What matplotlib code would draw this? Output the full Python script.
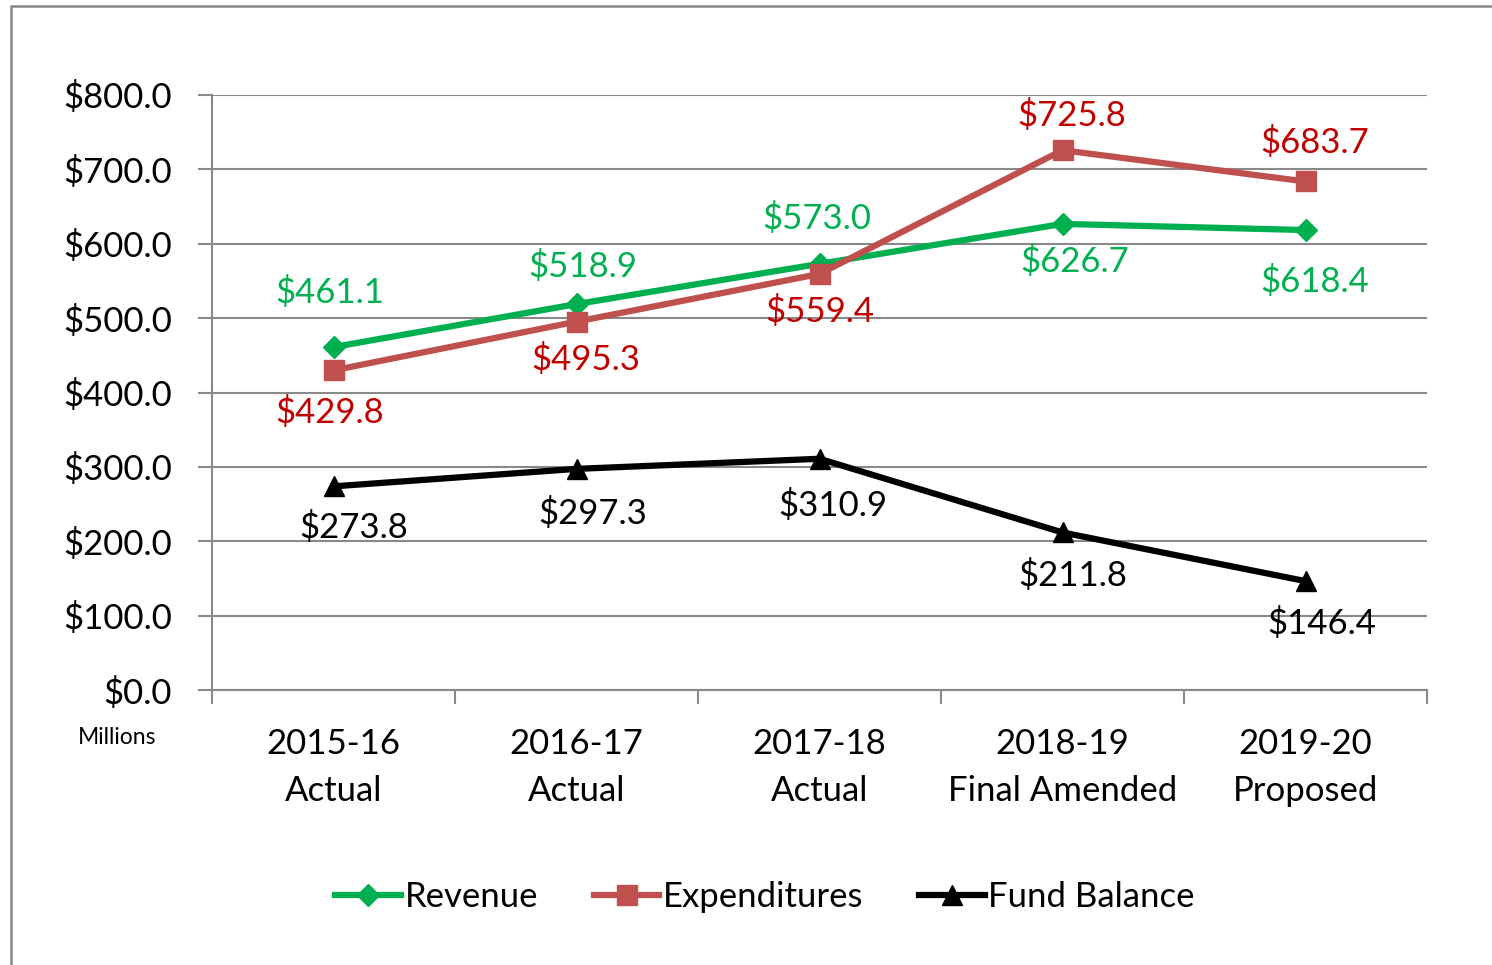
import matplotlib
matplotlib.use("Agg")
import matplotlib.pyplot as plt
from matplotlib.patches import Rectangle

plt.rcParams['font.family'] = ['Lato', 'DejaVu Sans']

# Data
categories = ['2015-16\nActual', '2016-17\nActual', '2017-18\nActual',
              '2018-19\nFinal Amended', '2019-20\nProposed']
revenue = [461.1, 518.9, 573.0, 626.7, 618.4]
expenditures = [429.8, 495.3, 559.4, 725.8, 683.7]
fund_balance = [273.8, 297.3, 310.9, 211.8, 146.4]

# label offsets in pixels (dx, dy) relative to the point
rev_off = [(-4, 55), (6, 38), (-3, 45), (12, -38), (9, -51)]
exp_off = [(-4, -42), (9, -38), (0, -38), (9, 35), (9, 39)]
fb_off = [(20, -41), (16, -45), (13, -47), (10, -43), (16, -42)]

GREEN = '#00B050'
RED = '#C0504D'
GRID = '#898989'
FS = 25

fig = plt.figure(figsize=(14.92, 9.65), dpi=100)
ax = fig.add_axes([212 / 1492, 1 - 690 / 965, (1427 - 212) / 1492, (690 - 95) / 965])

x = list(range(len(categories)))
ax.plot(x, revenue, color=GREEN, lw=4.5, marker='D', ms=11, label='Revenue', zorder=3)
ax.plot(x, expenditures, color=RED, lw=4.5, marker='s', ms=14, label='Expenditures', zorder=3)
ax.plot(x, fund_balance, color='black', lw=4.5, marker='^', ms=14, label='Fund Balance', zorder=3)

for vals, offs, col in [(revenue, rev_off, GREEN), (expenditures, exp_off, '#C00000'),
                        (fund_balance, fb_off, 'black')]:
    for i, v in enumerate(vals):
        ax.annotate(f'${v:.1f}', (i, v), xytext=offs[i], textcoords='offset pixels',
                    ha='center', va='center', fontsize=FS, color=col, zorder=4)

ax.set_xlim(-0.5, 4.5)
ax.set_ylim(0, 800)
ax.set_yticks(range(0, 801, 100))
ax.set_yticklabels([f'${v:.1f}' for v in range(0, 801, 100)], fontsize=FS)
ax.set_xticks(x)
ax.set_xticklabels(categories, fontsize=FS, linespacing=1.6)
ax.set_xticks([i - 0.5 for i in range(len(categories) + 1)], minor=True)
ax.tick_params(axis='x', which='major', length=0, pad=27)
ax.tick_params(axis='x', which='minor', length=10, width=1.5, color=GRID, direction='out')
ax.tick_params(axis='y', length=10, width=1.5, color=GRID, pad=19)
ax.grid(axis='y', color=GRID, lw=1.5)
ax.set_axisbelow(True)
for s in ['top', 'right']:
    ax.spines[s].set_visible(False)
for s in ['left', 'bottom']:
    ax.spines[s].set_color(GRID)
    ax.spines[s].set_linewidth(1.5)

fig.text(117 / 1492, 1 - 738 / 965, 'Millions', ha='center', va='center', fontsize=16.5)

fig.legend(loc='center', bbox_to_anchor=(765 / 1492, 1 - 897 / 965), ncol=3, frameon=False,
           fontsize=FS, handlelength=1.9, handletextpad=0.1, columnspacing=1.6)

# outer chart border
fig.patches.append(Rectangle((11 / 1492, -0.1), 2, 1.1 - 6 / 965, transform=fig.transFigure,
                             fill=False, edgecolor=GRID, lw=1.8))

fig.savefig('out.png', dpi=100)
